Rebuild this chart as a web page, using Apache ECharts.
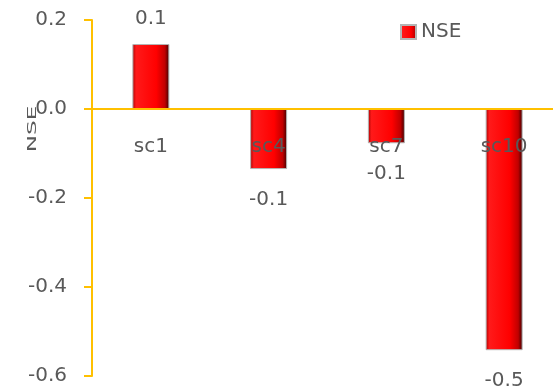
<!DOCTYPE html>
<html>
<head>
<meta charset="utf-8">
<script src="https://cdn.jsdelivr.net/npm/echarts@6/dist/echarts.min.js"></script>
<style>
  html, body { margin: 0; padding: 0; background: #ffffff; }
  #chart { width: 553px; height: 387px; }
</style>
</head>
<body>
<div id="chart"></div>
<script>
// Scenario categories and their Nash–Sutcliffe efficiency values
const categories = ['sc1', 'sc4', 'sc7', 'sc10'];
const nseValues = [0.146, -0.135, -0.077, -0.542];
const yTicks = { min: -0.6, max: 0.2, interval: 0.2 };

const FONT = '"DejaVu Sans", "Liberation Sans", sans-serif';
const TEXT = '#595959';
const AXIS = '#FFC000';
const FS = 20;

const GRID = { left: 92, right: -10, top: 20, bottom: 11 };
const CHART_H = 387;
const plotH = CHART_H - GRID.top - GRID.bottom;
// distance of the zero line above the plot bottom, so the category axis sits on it
const zeroLift = plotH * (0 - yTicks.min) / (yTicks.max - yTicks.min);

const barFill = {
  type: 'linear', x: 0, y: 0, x2: 1, y2: 0,
  colorStops: [
    { offset: 0, color: '#a80000' },
    { offset: 0.1, color: '#ff1a1a' },
    { offset: 0.65, color: '#ff0000' },
    { offset: 0.88, color: '#c00000' },
    { offset: 1, color: '#3a0000' }
  ]
};

const chart = echarts.init(document.getElementById('chart'), null, { renderer: 'canvas' });

chart.setOption({
  animation: false,
  backgroundColor: '#ffffff',
  grid: Object.assign({ containLabel: false, outerBoundsMode: 'none' }, GRID),
  legend: {
    data: ['NSE'],
    left: 395, top: 17,
    itemWidth: 15, itemHeight: 14,
    itemGap: 6,
    icon: 'rect',
    textStyle: { color: TEXT, fontSize: FS, fontFamily: FONT }
  },
  xAxis: {
    type: 'category',
    data: categories,
    z: 5,
    offset: -zeroLift,
    axisLine: { onZero: false, lineStyle: { color: AXIS, width: 2 } },
    axisTick: { show: false },
    axisLabel: { color: TEXT, fontSize: FS, fontFamily: FONT, margin: 28 },
    splitLine: { show: false }
  },
  yAxis: {
    type: 'value',
    min: yTicks.min, max: yTicks.max, interval: yTicks.interval,
    axisLine: { show: true, onZero: false, lineStyle: { color: AXIS, width: 2 } },
    axisTick: { show: true, inside: false, length: 8, lineStyle: { color: AXIS, width: 2 } },
    axisLabel: {
      color: TEXT, fontSize: FS, fontFamily: FONT, margin: 25,
      formatter: v => v.toFixed(1)
    },
    splitLine: { show: false }
  },
  graphic: [{
    // vertical axis title, reads bottom to top
    type: 'text',
    x: 32.5, y: 129,
    rotation: Math.PI / 2,
    scaleX: 1.85,
    z: 10,
    style: {
      text: 'NSE', fill: TEXT, fontSize: 12.5, fontFamily: FONT,
      align: 'center', verticalAlign: 'middle'
    }
  }],
  series: [{
    name: 'NSE',
    type: 'bar',
    data: nseValues.map(v => ({
      value: v,
      label: v >= 0 ? { position: 'top', distance: 15 } : { position: 'bottom', distance: 21 }
    })),
    barWidth: 37,
    itemStyle: { color: barFill, borderColor: '#b4b4b4', borderWidth: 1 },
    label: {
      show: true,
      color: TEXT, fontSize: FS, fontFamily: FONT,
      formatter: p => p.value.toFixed(1)
    }
  }]
});
</script>
</body>
</html>
